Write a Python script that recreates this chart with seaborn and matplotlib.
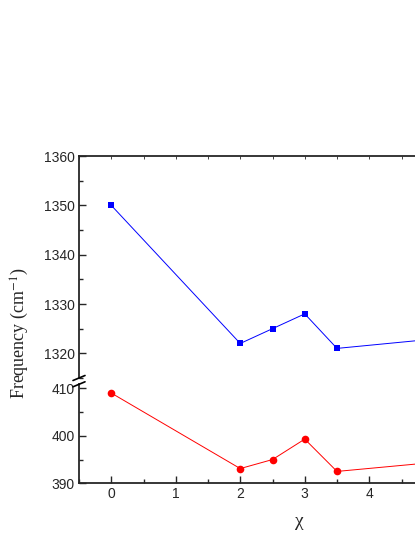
import numpy as np
import pandas as pd
import matplotlib
matplotlib.use("Agg")
import matplotlib.pyplot as plt
import seaborn as sb
from matplotlib.lines import Line2D
from matplotlib.ticker import MultipleLocator, FixedLocator

# data #
chi = [0, 2, 2.5, 3, 3.5, 5]
freq_high = [1350, 1322, 1325, 1328, 1321, 1322.9]
freq_low = [409, 393.1, 395.0, 399.3, 392.5, 394.4]
x_tick_labels = [0, 1, 2, 3, 4]

df = pd.DataFrame({'chi': chi, 'high': freq_high, 'low': freq_low})

sb.set_style('ticks')
plt.rcParams['font.family'] = ['Liberation Sans', 'DejaVu Sans']
plt.rcParams['mathtext.fontset'] = 'stix'
plt.rcParams['xtick.direction'] = 'in'
plt.rcParams['ytick.direction'] = 'in'

W, H = 415, 537
fig = plt.figure(figsize=(W / 100, H / 100), dpi=100)

def px(x0, y_top, x1, y_bot):
    return [x0 / W, (H - y_bot) / H, (x1 - x0) / W, (y_bot - y_top) / H]

ax_hi = fig.add_axes(px(79, 156, 79 + 7 * 64.5, 378))
ax_lo = fig.add_axes(px(79, 384, 79 + 7 * 64.5, 483.3))

# upper part #
sb.lineplot(data=df, x='chi', y='high', ax=ax_hi, color='blue', marker='s',
            markersize=5, markeredgewidth=0, linewidth=0.7)
ax_hi.set_ylim(1315, 1360)
ax_hi.yaxis.set_major_locator(MultipleLocator(10))
ax_hi.yaxis.set_minor_locator(MultipleLocator(5))

# lower part #
sb.lineplot(data=df, x='chi', y='low', ax=ax_lo, color='red', marker='o',
            markersize=5.5, markeredgewidth=0, linewidth=0.7)
ax_lo.set_ylim(390, 410.9)
ax_lo.yaxis.set_major_locator(MultipleLocator(10))
ax_lo.yaxis.set_minor_locator(MultipleLocator(5))

for ax in (ax_hi, ax_lo):
    ax.set_xlim(-0.5, 6.5)
    ax.xaxis.set_major_locator(FixedLocator(x_tick_labels))
    ax.xaxis.set_minor_locator(MultipleLocator(0.5))
    ax.set_xlabel('')
    ax.set_ylabel('')
    ax.set_facecolor('none')
    ax.spines['right'].set_visible(False)
    for s in ax.spines.values():
        s.set_linewidth(1.3)
    ax.tick_params(which='major', length=5, width=1, labelsize=10, pad=3)
    ax.tick_params(which='minor', length=3, width=1)

ax_hi.spines['bottom'].set_visible(False)
ax_hi.tick_params(axis='x', which='both', bottom=False, labelbottom=False,
                  top=True, length=2.5, width=0.6)
ax_lo.spines['top'].set_visible(False)
ax_lo.tick_params(axis='x', which='both', top=False)

# break marks on the left spine #
for yb in (378, 384.3):
    fig.add_artist(Line2D([73 / W, 85 / W], [(H - yb - 2.5) / H, (H - yb + 2.5) / H],
                          transform=fig.transFigure, color='black', linewidth=1.2))

# labels #
fig.text(20 / W, (H - 333) / H, 'Frequency (cm$^{-1}$)', rotation=90,
         ha='center', va='center', fontsize=13, family='Liberation Serif')
fig.text(299 / W, (H - 522) / H, 'χ', ha='center', va='center',
         fontsize=14, family='Liberation Serif')

plt.savefig('out.png', dpi=100)
